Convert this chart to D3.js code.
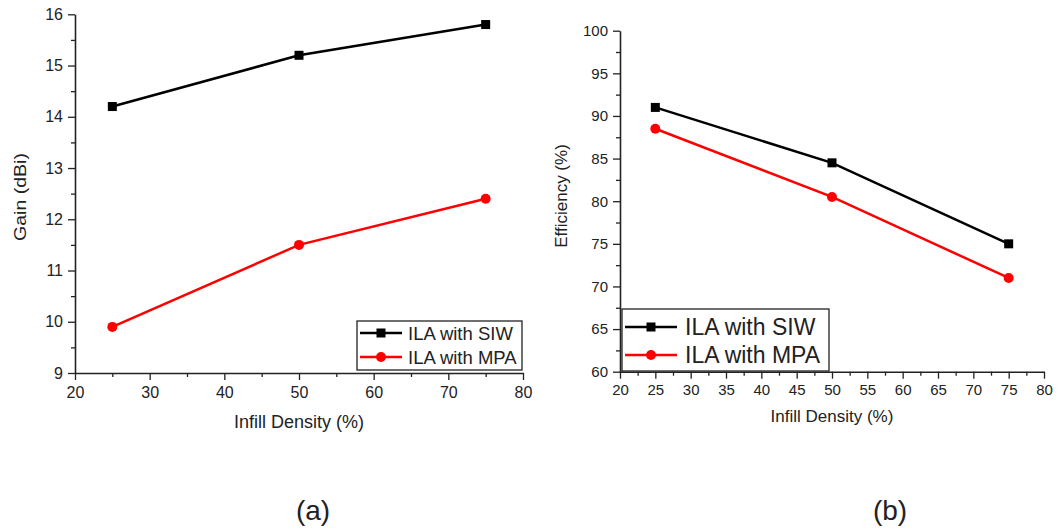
<!DOCTYPE html>
<html><head><meta charset="utf-8">
<script src="https://cdn.jsdelivr.net/npm/d3@7"></script>
<style>body{margin:0;background:#fff}svg{display:block}text{font-family:Arial,"Liberation Sans",sans-serif;fill:#222}</style>
</head><body>
<svg id="c" width="1060" height="532"></svg>
<script>
const infill = [25, 50, 75];
const gainSIW = [14.2, 15.2, 15.8];
const gainMPA = [9.9, 11.5, 12.4];
const effSIW = [91, 84.5, 75];
const effMPA = [88.5, 80.5, 71];
const seriesNames = ["ILA with SIW", "ILA with MPA"];
const seriesColors = ["#000000", "#ff0000"];
const leftXTicks = [20, 30, 40, 50, 60, 70, 80];
const leftYTicks = [9, 10, 11, 12, 13, 14, 15, 16];
const rightXTicks = [20, 25, 30, 35, 40, 45, 50, 55, 60, 65, 70, 75, 80];
const rightYTicks = [60, 65, 70, 75, 80, 85, 90, 95, 100];

const svg = d3.select("#c");

function panel(cfg) {
  const g = svg.append("g");
  const x = d3.scaleLinear().domain(cfg.xDomain).range([cfg.x0, cfg.x1]);
  const y = d3.scaleLinear().domain(cfg.yDomain).range([cfg.y0, cfg.y1]);
  const xMinor = d3.range(cfg.xDomain[0] + cfg.xStep/2, cfg.xDomain[1], cfg.xStep);
  const yMinor = d3.range(cfg.yDomain[0] + cfg.yStep/2, cfg.yDomain[1], cfg.yStep);
  g.append("g").attr("transform", `translate(0,${cfg.y0})`)
    .call(d3.axisBottom(x).tickValues(xMinor).tickSize(4).tickFormat(""))
    .call(a => a.select(".domain").remove())
    .selectAll("line").attr("stroke", "#222").attr("stroke-width", 1.3);
  g.append("g").attr("transform", `translate(${cfg.x0},0)`)
    .call(d3.axisLeft(y).tickValues(yMinor).tickSize(4).tickFormat(""))
    .call(a => a.select(".domain").remove())
    .selectAll("line").attr("stroke", "#222").attr("stroke-width", 1.3);
  const xa = g.append("g").attr("transform", `translate(0,${cfg.y0})`)
    .call(d3.axisBottom(x).tickValues(cfg.xTicks).tickFormat(d3.format("d")).tickSize(7).tickSizeOuter(0).tickPadding(cfg.xPad));
  const ya = g.append("g").attr("transform", `translate(${cfg.x0},0)`)
    .call(d3.axisLeft(y).tickValues(cfg.yTicks).tickFormat(d3.format("d")).tickSize(7).tickSizeOuter(0).tickPadding(5));
  [xa, ya].forEach(a => {
    a.attr("font-size", null).attr("font-family", null);
    a.select(".domain").attr("stroke", "#222").attr("stroke-width", 1.6);
    a.selectAll("line").attr("stroke", "#222").attr("stroke-width", 1.3);
    a.selectAll("text").style("font-size", cfg.tickFs + "px").attr("fill", "#222");
  });
  g.append("text").attr("x", cfg.xTitleX).attr("y", cfg.xTitleY)
    .attr("text-anchor", "middle").style("font-size", cfg.xTitleFs + "px").text("Infill Density (%)");
  g.append("text").attr("transform", `translate(${cfg.yTitleX},${cfg.yTitleY}) rotate(-90) scale(${cfg.yTitleScale},1)`)
    .attr("text-anchor", "middle").style("font-size", cfg.yTitleFs + "px").text(cfg.yTitle);
  const line = d3.line().x((d,i) => x(infill[i])).y(d => y(d));
  cfg.series.forEach((s, k) => {
    g.append("path").datum(s).attr("d", line).attr("fill", "none")
      .attr("stroke", seriesColors[k]).attr("stroke-width", 2.5);
    s.forEach((v, i) => {
      if (k === 0) g.append("rect").attr("x", x(infill[i]) - 4.5).attr("y", y(v) - 4.5)
        .attr("width", 9).attr("height", 9).attr("fill", seriesColors[k]);
      else g.append("circle").attr("cx", x(infill[i])).attr("cy", y(v)).attr("r", 5)
        .attr("fill", seriesColors[k]);
    });
  });
  const L = cfg.legend;
  g.append("rect").attr("x", L.x).attr("y", L.y).attr("width", L.w).attr("height", L.h)
    .attr("fill", "#fff").attr("stroke", "#222").attr("stroke-width", 1.3);
  seriesNames.forEach((n, k) => {
    const yy = L.y + L.rows[k];
    g.append("line").attr("x1", L.x + 3).attr("x2", L.x + 3 + L.lineW).attr("y1", yy).attr("y2", yy)
      .attr("stroke", seriesColors[k]).attr("stroke-width", 2.5);
    const cx = L.x + 3 + L.lineW/2;
    if (k === 0) g.append("rect").attr("x", cx - 4.5).attr("y", yy - 4.5).attr("width", 9).attr("height", 9).attr("fill", seriesColors[k]);
    else g.append("circle").attr("cx", cx).attr("cy", yy).attr("r", 5).attr("fill", seriesColors[k]);
    g.append("text").attr("x", L.x + L.textX).attr("y", yy).attr("dy", "0.36em")
      .style("font-size", L.fs + "px").attr("fill", "#111").text(n);
  });
  g.append("text").attr("x", cfg.labelX).attr("y", 520).attr("text-anchor", "middle")
    .style("font-size", "28px").attr("fill", "#111").text(cfg.label);
}

panel({
  xDomain: [20, 80], yDomain: [9, 16], x0: 75, x1: 523, y0: 373, y1: 14.3,
  xStep: 10, yStep: 1, xTicks: leftXTicks, yTicks: leftYTicks, tickFs: 16, xPad: 7,
  xTitleX: 299, xTitleY: 428, xTitleFs: 18,
  yTitleX: 26, yTitleY: 197, yTitleFs: 17, yTitleScale: 1.15, yTitle: "Gain (dBi)",
  series: [gainSIW, gainMPA],
  legend: {x: 357, y: 321, w: 165, h: 49, rows: [12, 36], lineW: 42, textX: 51, fs: 18.5},
  label: "(a)", labelX: 313
});
panel({
  xDomain: [20, 80], yDomain: [60, 100], x0: 620, x1: 1044, y0: 371.7, y1: 30.7,
  xStep: 5, yStep: 5, xTicks: rightXTicks, yTicks: rightYTicks, tickFs: 15, xPad: 6,
  xTitleX: 832, xTitleY: 422, xTitleFs: 17,
  yTitleX: 567, yTitleY: 196, yTitleFs: 17, yTitleScale: 1.0, yTitle: "Efficiency (%)",
  series: [effSIW, effMPA],
  legend: {x: 622, y: 309, w: 207, h: 62, rows: [18, 46], lineW: 52, textX: 63, fs: 23},
  label: "(b)", labelX: 890
});
</script>
</body></html>
